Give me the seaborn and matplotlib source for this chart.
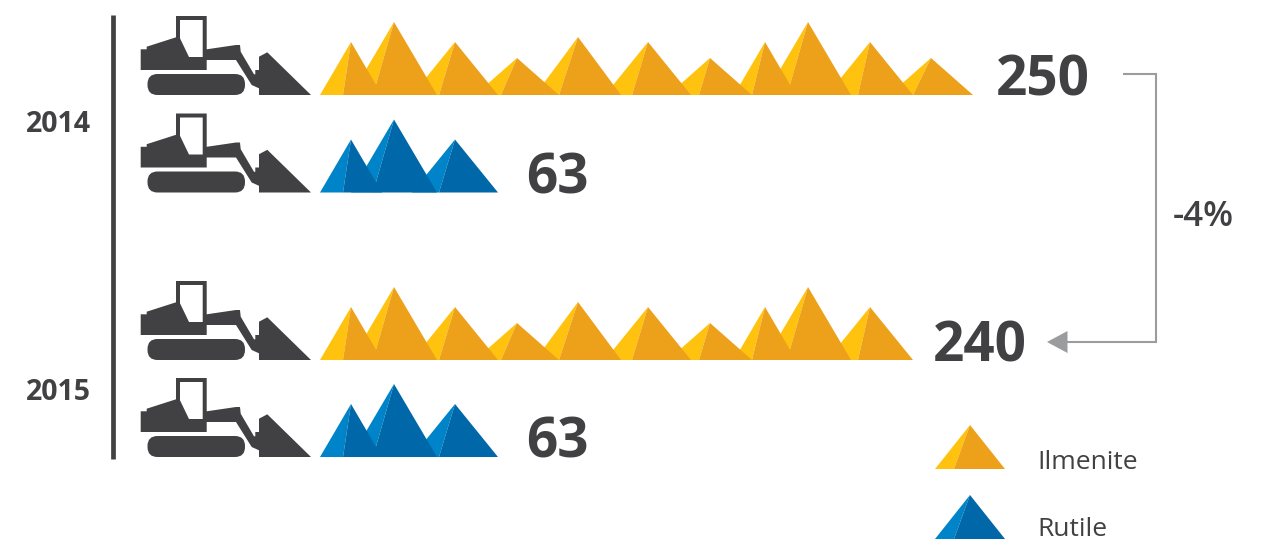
import matplotlib.pyplot as plt
from matplotlib.patches import FancyBboxPatch
import seaborn as sns

# values shown on the chart
row_values = ["250", "63", "240", "63"]
year_labels = ["2014", "2015"]
change_label = "-4%"
legend_names = ["Ilmenite", "Rutile"]

# colours per mineral (light side, dark side)
ilmenite_cols = ("#FFC20E", "#EDA11A")
rutile_cols = ("#0084C9", "#0067A9")
dark = "#414042"
grey = "#9A9C9E"

# pile kinds: half width, height
pile_kinds = {
    "N": (31, 53),
    "B": (43, 73),
    "W": (43, 53),
    "T": (43, 58),
    "S": (42, 37),
}

# piles in each row: peak x, kind, offset of the shaded ridge foot
ilm_2014_x = [351, 394, 455, 517, 578, 648, 710, 765, 808, 870, 931]
ilm_2014_kind = ["N", "B", "W", "S", "T", "W", "S", "N", "B", "W", "S"]
ilm_2014_ridge = [8, 21, 16, 16, 19, 16, 11, 13, 21, 12, 18]
ilm_2015_x = ilm_2014_x[:10]
ilm_2015_kind = ilm_2014_kind[:10]
ilm_2015_ridge = ilm_2014_ridge[:10]
rut_x = [351, 394, 455]
rut_kind = ["N", "B", "W"]
rut_ridge = [8, 21, 16]

rows = [
    (95, ilm_2014_x, ilm_2014_kind, ilm_2014_ridge, ilmenite_cols, 996),
    (192.5, rut_x, rut_kind, rut_ridge, rutile_cols, 526),
    (360, ilm_2015_x, ilm_2015_kind, ilm_2015_ridge, ilmenite_cols, 933),
    (457, rut_x, rut_kind, rut_ridge, rutile_cols, 526),
]

# dozer outline, x from 130, y up from the row baseline
dozer_x = [10.7, 10.7, 16.7, 16.7, 46, 46, 76.7, 76.7, 106, 110, 110.7, 124, 125.3, 125.3,
           129, 129, 137.3, 181, 129, 129, 121.7, 106, 76.7, 76.7]
dozer_y = [25, 45.7, 45.7, 48.3, 57.7, 79, 79, 45.7, 50, 50, 43.3, 20.7, 20.7, 25,
           25, 38.3, 42.7, 0, 0, 6.7, 10, 35, 35, 25]
window_x = [50, 72.7, 72.7, 59, 50]
window_y = [75, 75, 38, 38, 56.7]

sns.set_theme(style="white")
plt.rcParams["font.family"] = ["Open Sans", "DejaVu Sans"]

fig = plt.figure(figsize=(12.61, 5.42), dpi=100)
ax = fig.add_axes([0, 0, 1, 1])


def draw_pile(peak, base, kind, ridge, cols):
    hw, h = pile_kinds[kind]
    ax.fill([peak - hw, peak, peak - ridge], [base, base - h, base], color=cols[0], lw=0)
    ax.fill([peak - ridge, peak, peak + hw], [base, base - h, base], color=cols[1], lw=0)


def draw_dozer(base):
    ax.fill([130 + x for x in dozer_x], [base - y for y in dozer_y], color=dark, lw=0)
    ax.fill([130 + x for x in window_x], [base - y for y in window_y], color="white", lw=0)
    track = FancyBboxPatch((147.5, base - 21), 97.5, 21, boxstyle="round,pad=0,rounding_size=10",
                           fc=dark, ec="none")
    ax.add_patch(track)


for (base, xs, kinds, ridges, cols, text_x), val in zip(rows, row_values):
    draw_dozer(base)
    # earlier piles sit in front of later ones
    for peak, kind, ridge in reversed(list(zip(xs, kinds, ridges))):
        draw_pile(peak, base, kind, ridge, cols)
    ax.text(text_x, base + 1, val, fontsize=39.5, fontweight="bold", color=dark, ha="left", va="baseline")

# vertical rule
sns.lineplot(x=[112.5, 112.5], y=[15, 459], color=dark, linewidth=3.4, ax=ax, estimator=None, sort=False,
             solid_capstyle="butt")

# change bracket and arrow
sns.lineplot(x=[1123, 1156, 1156, 1066], y=[74, 74, 342, 342], color=grey, linewidth=1.5,
             ax=ax, estimator=None, sort=False, solid_capstyle="butt", solid_joinstyle="miter")
ax.fill([1047, 1067.5, 1067.5], [342, 331, 353], color=grey, lw=0)
ax.text(1173, 226.5, change_label, fontsize=25, fontweight="semibold", color=dark, ha="left", va="baseline")

ax.text(26, 132, year_labels[0], fontsize=20.5, fontweight="bold", color=dark, ha="left", va="baseline")
ax.text(26, 400.5, year_labels[1], fontsize=20.5, fontweight="bold", color=dark, ha="left", va="baseline")

# legend
for base, cols, name, text_y in zip([469, 539], [ilmenite_cols, rutile_cols], legend_names, [469, 535.5]):
    ax.fill([935, 970, 954], [base, base - 44, base], color=cols[0], lw=0)
    ax.fill([954, 970, 1005], [base, base - 44, base], color=cols[1], lw=0)
    ax.text(1037, text_y, name, fontsize=19, color=dark, ha="left", va="baseline")

ax.set_xlim(0, 1261)
ax.set_ylim(542, 0)
ax.axis("off")

fig.savefig("out.png", dpi=100)
